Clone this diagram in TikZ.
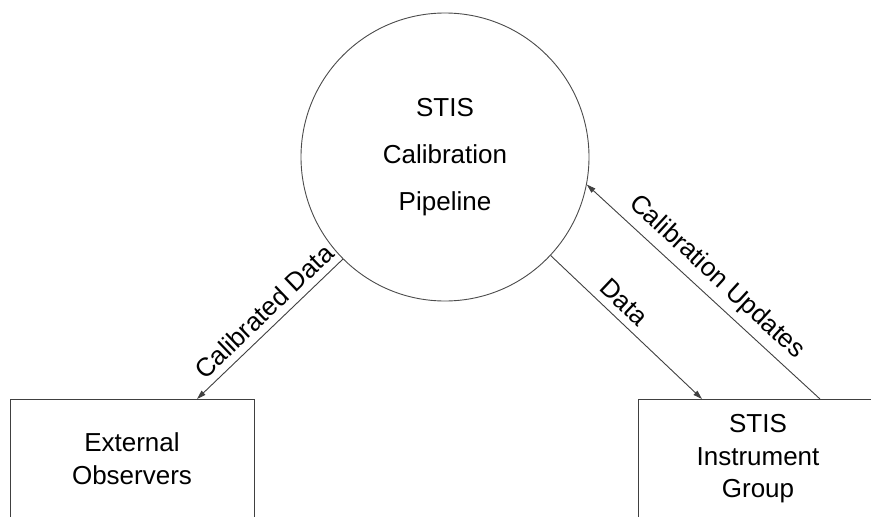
\documentclass[tikz,border=0pt]{standalone}
\usepackage{fontspec}
\setmainfont{Liberation Sans}
\usetikzlibrary{arrows.meta}
\begin{document}
\begin{tikzpicture}[x=1pt,y=-1pt,
  every node/.style={font=\fontsize{26}{30}\selectfont},
  ln/.style={draw=black!75, line width=0.9pt},
  flow/.style={ln, -{Triangle[length=9pt,width=5.5pt]}},
  lbl/.style={sloped, above=7pt, inner sep=0pt},
  proc/.style={circle, draw=black!70, line width=0.9pt, minimum size=288pt, inner sep=0pt, align=center, font=\fontsize{26}{47}\selectfont},
  ent/.style={rectangle, draw=black!75, line width=0.9pt, inner sep=0pt, minimum height=120pt, align=center}]
\useasboundingbox (0,0) rectangle (871,517);
\clip (0,0) rectangle (871,517);
\fill[white] (0,0) rectangle (871,517);
\node[proc] (pipe) at (445,157) {STIS\\Calibration\\Pipeline};
\node[ent, minimum width=244pt, font=\fontsize{26}{33}\selectfont] (ext) at (132,459) {External\\Observers};
\node[ent, minimum width=240pt, font=\fontsize{26}{32.5}\selectfont] (grp) at (758,459) {STIS\\Instrument\\Group};
\coordinate (cdEnd) at (197,399);
\coordinate (dEnd) at (702,399);
\coordinate (cuStart) at (820,399);
\draw[flow] (pipe.225) -- node[lbl, pos=0.46] (l1) {Calibrated Data} (cdEnd);
\draw[flow] (pipe.317) -- node[lbl, pos=0.41] (l2) {Data} (dEnd);
\draw[flow] (cuStart) -- node[lbl, pos=0.5] (l3) {Calibration Updates} (pipe.349);
\end{tikzpicture}
\end{document}
